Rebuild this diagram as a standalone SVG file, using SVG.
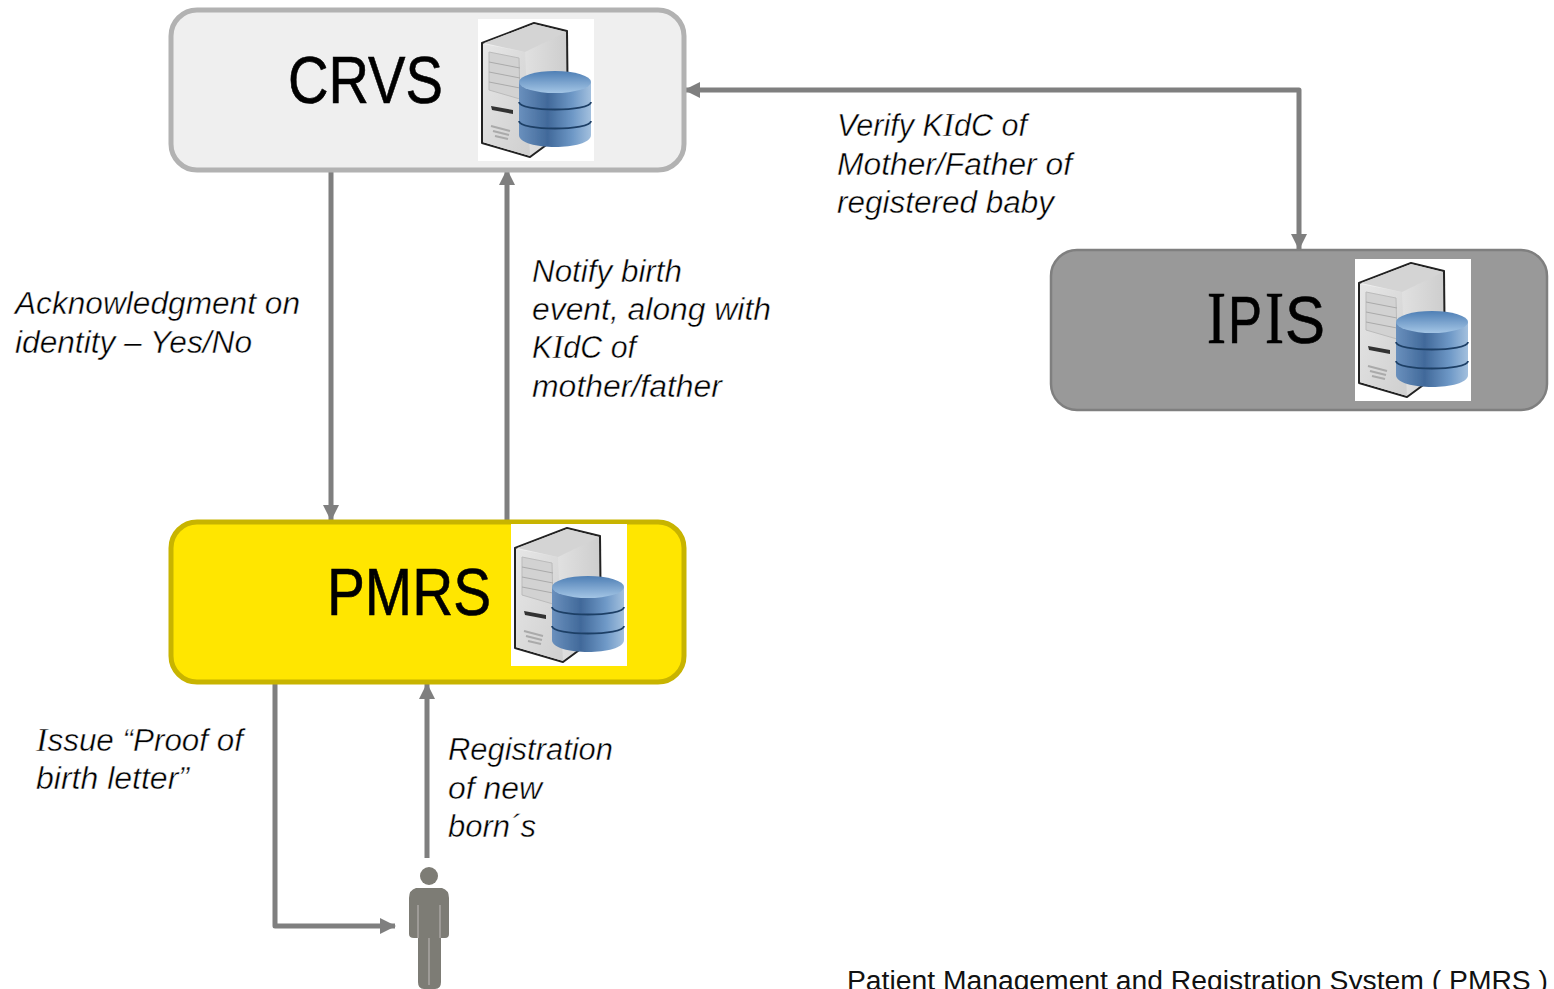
<svg xmlns="http://www.w3.org/2000/svg" width="1554" height="989" viewBox="0 0 1554 989">
<style>
.lbl{font-family:"Liberation Sans",Arial,sans-serif;font-size:31px;font-style:italic;fill:#000;stroke:#fff;stroke-width:.45px}
.title{font-family:"Liberation Sans",Arial,sans-serif;font-size:67px;fill:#000;stroke:#000;stroke-width:.6px}
.slab{font-family:"Liberation Serif",serif;font-size:34px}
.slabT{font-family:"Liberation Serif",serif;font-size:74px}
.conn{fill:none;stroke:#7f7f7f;stroke-width:5;stroke-linejoin:round}
.box{stroke-width:5}
</style>
<defs>
<filter id="soft" x="-10%" y="-10%" width="120%" height="120%"><feGaussianBlur stdDeviation="0.7"/></filter>
<filter id="soft2" x="-5%" y="-5%" width="110%" height="110%"><feGaussianBlur stdDeviation="0.45"/></filter>
<linearGradient id="cyl" x1="0" x2="1" y1="0" y2="0"><stop offset="0" stop-color="#6a90bd"/><stop offset=".4" stop-color="#41699a"/><stop offset=".75" stop-color="#6f99c7"/><stop offset="1" stop-color="#a3c0de"/></linearGradient>
<linearGradient id="cyltop" x1="0" x2="0" y1="0" y2="1"><stop offset="0" stop-color="#4f7fb5"/><stop offset="1" stop-color="#a3c5e5"/></linearGradient>
<linearGradient id="front" x1="0" x2="1" y1="0" y2="1"><stop offset="0" stop-color="#e6e6e6"/><stop offset="1" stop-color="#cfcfcf"/></linearGradient>
<linearGradient id="side" x1="0" x2="1" y1="0" y2="0"><stop offset="0" stop-color="#f4f4f4"/><stop offset="1" stop-color="#cdcdcd"/></linearGradient>
<marker id="arr" viewBox="0 0 16 16" refX="15" refY="8" markerWidth="16" markerHeight="16" markerUnits="userSpaceOnUse" orient="auto-start-reverse"><path d="M0 0L16 8L0 16Z" fill="#7f7f7f"/></marker>
<g id="srv">
<rect width="116" height="142" fill="#fff"/>
<g filter="url(#soft2)">
<path d="M4 24L56 4L89 12L90 110L52 138L4 124Z" fill="url(#side)" stroke="#222" stroke-width="2" stroke-linejoin="round"/>
<path d="M5 25L47 33L52 137L5 123Z" fill="url(#front)"/>
<path d="M47 33L88 13L56 5L6 24Z" fill="#d4d4d4"/>
<path d="M11 33L41 39L42 80L11 71Z" fill="#d2d2d2" stroke="#bbb"/>
<path d="M11 43L42 49M11 53L42 59M11 63L42 69" stroke="#aaa" fill="none"/>
<path d="M13 87L35 91L35 95L14 91Z" fill="#333"/>
<path d="M13 107L32 112M15 112L31 116M17 117L30 120" stroke="#aaa" stroke-width="2" fill="none"/>
<path d="M41 63V116C41 132 113 132 113 116V63Z" fill="url(#cyl)"/>
<ellipse cx="77" cy="63" rx="36" ry="11" fill="url(#cyltop)"/>
<path d="M41 83C41 93 113 93 113 83M41 102C41 112 113 112 113 102" fill="none" stroke="#1f3f66" stroke-width="1.8"/>
</g>
</g>
</defs>
<g id="connectors">
<path class="conn" d="M331 170V520" marker-end="url(#arr)"/>
<path class="conn" d="M507 520V170" marker-end="url(#arr)"/>
<path class="conn" d="M685 90H1299V249" marker-start="url(#arr)" marker-end="url(#arr)"/>
<path class="conn" d="M275 682V926H395" marker-end="url(#arr)"/>
<path class="conn" d="M427 858V684" marker-end="url(#arr)"/>
</g>
<g id="crvs">
<rect class="box" x="171" y="10" width="513" height="160" rx="26" fill="#efefef" stroke="#b2b2b2"/>
<text class="title" x="288" y="103" textLength="155" lengthAdjust="spacingAndGlyphs">CRVS</text>
<use href="#srv" x="478" y="19"/>
</g>
<g id="ipis">
<rect x="1051" y="250" width="496" height="160" rx="26" fill="#999" stroke="#7f7f7f" stroke-width="2.5"/>
<text class="title" y="343"><tspan class="slabT" x="1207" textLength="19" lengthAdjust="spacingAndGlyphs">I</tspan><tspan x="1228" textLength="34" lengthAdjust="spacingAndGlyphs">P</tspan><tspan class="slabT" x="1265" textLength="19" lengthAdjust="spacingAndGlyphs">I</tspan><tspan x="1285" textLength="40" lengthAdjust="spacingAndGlyphs">S</tspan></text>
<use href="#srv" x="1355" y="259"/>
</g>
<g id="pmrs">
<rect class="box" x="171" y="522" width="513" height="160" rx="26" fill="#ffe600" stroke="#c8b400"/>
<text class="title" x="327" y="615" textLength="164" lengthAdjust="spacingAndGlyphs">PMRS</text>
<use href="#srv" x="511" y="524"/>
</g>
<g id="person" fill="#7d7b74" filter="url(#soft)">
<circle cx="429" cy="876" r="9"/>
<path d="M416 888H442Q449 890 449 898V934Q449 938 445 938H441V982Q441 989 435 989H424Q418 989 418 982V938H414Q409 938 409 934V898Q409 890 416 888Z"/>
<path d="M429 938V985M418 905V938M440 905V938" stroke="#a9a7a2" stroke-width="1.5"/>
</g>
<g id="labels">
<text class="lbl"><tspan x="837" y="136" textLength="190" lengthAdjust="spacingAndGlyphs">Verify K<tspan class="slab">I</tspan>dC of</tspan><tspan x="837" y="175" textLength="235" lengthAdjust="spacingAndGlyphs">Mother/Father of</tspan><tspan x="837" y="213" textLength="217" lengthAdjust="spacingAndGlyphs">registered baby</tspan></text>
<text class="lbl"><tspan x="15" y="314" textLength="285" lengthAdjust="spacingAndGlyphs">Acknowledgment on</tspan><tspan x="15" y="353" textLength="237" lengthAdjust="spacingAndGlyphs">identity – Yes/No</tspan></text>
<text class="lbl"><tspan x="532" y="282" textLength="150" lengthAdjust="spacingAndGlyphs">Notify birth</tspan><tspan x="532" y="320" textLength="239" lengthAdjust="spacingAndGlyphs">event, along with</tspan><tspan x="532" y="358" textLength="104" lengthAdjust="spacingAndGlyphs">K<tspan class="slab">I</tspan>dC of</tspan><tspan x="532" y="397" textLength="190" lengthAdjust="spacingAndGlyphs">mother/father</tspan></text>
<text class="lbl"><tspan x="36" y="751" textLength="207" lengthAdjust="spacingAndGlyphs"><tspan class="slab">I</tspan>ssue “Proof of</tspan><tspan x="36" y="789" textLength="153" lengthAdjust="spacingAndGlyphs">birth letter”</tspan></text>
<text class="lbl"><tspan x="448" y="760" textLength="165" lengthAdjust="spacingAndGlyphs">Registration</tspan><tspan x="448" y="799" textLength="94" lengthAdjust="spacingAndGlyphs">of new</tspan><tspan x="448" y="837" textLength="88" lengthAdjust="spacingAndGlyphs">born´s</tspan></text>
<text x="847" y="990" font-family="'Liberation Sans',Arial,sans-serif" font-size="27" fill="#111" textLength="701" lengthAdjust="spacingAndGlyphs">Patient Management and Registration System ( PMRS )</text>
</g>
</svg>
